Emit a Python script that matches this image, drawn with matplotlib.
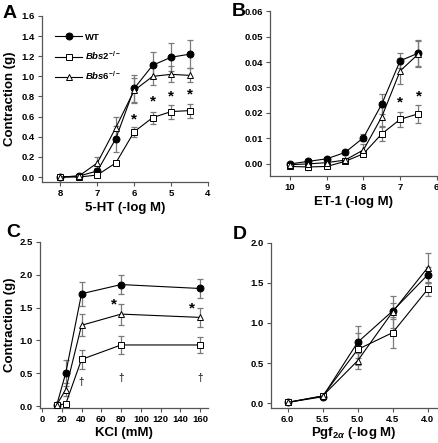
import matplotlib
matplotlib.use('Agg')
import matplotlib.pyplot as plt
from matplotlib.ticker import FormatStrFormatter

plt.rcParams['font.family'] = ['Liberation Sans', 'DejaVu Sans']
plt.rcParams['font.weight'] = 'bold'
plt.rcParams['mathtext.fontset'] = 'custom'
plt.rcParams['mathtext.rm'] = 'Liberation Sans:bold'
plt.rcParams['mathtext.it'] = 'Liberation Sans:italic:bold'
plt.rcParams['mathtext.bf'] = 'Liberation Sans:bold'

# panel A: 5-HT
a_x = [8, 7.5, 7, 6.5, 6, 5.5, 5, 4.5]
a_wt = [0.0, 0.01, 0.06, 0.38, 0.88, 1.11, 1.19, 1.22]
a_wt_err = [0.0, 0.0, 0.03, 0.13, 0.13, 0.13, 0.14, 0.14]
a_bbs2 = [0.0, 0.0, 0.02, 0.14, 0.45, 0.59, 0.65, 0.66]
a_bbs2_err = [0.0, 0.0, 0.01, 0.01, 0.05, 0.06, 0.07, 0.07]
a_bbs6 = [0.0, 0.01, 0.14, 0.49, 0.86, 1.0, 1.02, 1.01]
a_bbs6_err = [0.0, 0.0, 0.06, 0.11, 0.12, 0.09, 0.08, 0.07]
a_star_x = [6, 5.5, 5, 4.5]
a_star_y = [0.57, 0.75, 0.80, 0.82]

# panel B: ET-1
b_x = [10, 9.5, 9, 8.5, 8, 7.5, 7, 6.5]
b_wt = [0.0, 0.001, 0.002, 0.0045, 0.0103, 0.0235, 0.0405, 0.0435]
b_wt_err = [0.0005, 0.001, 0.0005, 0.001, 0.0015, 0.004, 0.003, 0.005]
b_bbs2 = [-0.001, -0.0012, -0.001, 0.001, 0.004, 0.0118, 0.0175, 0.0197]
b_bbs2_err = [0.0005, 0.001, 0.0005, 0.0008, 0.001, 0.003, 0.003, 0.0035]
b_bbs6 = [-0.0003, 0.0, 0.0005, 0.0015, 0.0055, 0.0185, 0.0365, 0.0432]
b_bbs6_err = [0.0005, 0.0005, 0.0005, 0.001, 0.0025, 0.004, 0.005, 0.005]
b_star_x = [7, 6.5]
b_star_y = [0.0240, 0.0265]

# panel C: KCl
c_x = [15, 24, 40, 80, 160]
c_wt = [0.02, 0.5, 1.71, 1.85, 1.79]
c_wt_err = [0.02, 0.2, 0.18, 0.15, 0.14]
c_bbs2 = [0.02, 0.03, 0.71, 0.93, 0.93]
c_bbs2_err = [0.01, 0.01, 0.15, 0.14, 0.12]
c_bbs6 = [0.02, 0.25, 1.23, 1.4, 1.35]
c_bbs6_err = [0.02, 0.1, 0.17, 0.16, 0.14]
c_star_x = [73, 152]
c_star_y = [1.55, 1.49]
c_dag_x = [40, 80, 160]
c_dag_y = [0.37, 0.42, 0.42]

# panel D: Pgf2a
d_x = [6.0, 5.5, 5.0, 4.5, 4.0]
d_wt = [0.01, 0.08, 0.76, 1.15, 1.6]
d_wt_err = [0.0, 0.02, 0.2, 0.1, 0.1]
d_bbs2 = [0.01, 0.09, 0.67, 0.88, 1.42]
d_bbs2_err = [0.0, 0.01, 0.2, 0.19, 0.08]
d_bbs6 = [0.01, 0.09, 0.53, 1.14, 1.69]
d_bbs6_err = [0.0, 0.01, 0.1, 0.2, 0.18]

fig = plt.figure(figsize=(4.39, 4.43), dpi=100)
axA = fig.add_axes([0.0957, 0.589, 0.378, 0.375])
axB = fig.add_axes([0.615, 0.603, 0.380, 0.372])
axC = fig.add_axes([0.0911, 0.079, 0.383, 0.375])
axD = fig.add_axes([0.617, 0.079, 0.378, 0.373])

ecol = '#7a7a7a'


def draw(ax, x, ys, errs, cap=2.5):
    styles = [dict(marker='o', mfc='black', label='WT'),
              dict(marker='s', mfc='white', label=r'$Bbs2^{-/-}$'),
              dict(marker='^', mfc='white', label=r'$Bbs6^{-/-}$')]
    for y, e, st in zip(ys, errs, styles):
        ax.errorbar(x, y, yerr=e, fmt='none', ecolor=ecol, elinewidth=0.9,
                    capsize=cap, capthick=0.9, zorder=1)
        ax.plot(x, y, color='black', lw=0.8, ms=5, mec='black', mew=0.7,
                zorder=3, **st)


def style(ax, xlim, ylim, xticks, yticks, yfmt, xfmt=None):
    ax.set_xlim(*xlim)
    ax.set_ylim(*ylim)
    ax.set_xticks(xticks)
    ax.set_yticks(yticks)
    ax.yaxis.set_major_formatter(FormatStrFormatter(yfmt))
    if xfmt:
        ax.xaxis.set_major_formatter(FormatStrFormatter(xfmt))
    for s in ['top', 'right']:
        ax.spines[s].set_visible(False)
    for s in ['left', 'bottom']:
        ax.spines[s].set_color('#555555')
        ax.spines[s].set_linewidth(0.9)
    ax.tick_params(direction='out', length=3, width=0.8, color='#555555',
                   labelsize=6.8, pad=2)
    for lab in ax.get_xticklabels() + ax.get_yticklabels():
        lab.set_fontweight('bold')


draw(axA, a_x, [a_wt, a_bbs2, a_bbs6], [a_wt_err, a_bbs2_err, a_bbs6_err])
style(axA, (8.5, 4.0), (-0.05, 1.6), [8, 7, 6, 5, 4],
      [0, 0.2, 0.4, 0.6, 0.8, 1.0, 1.2, 1.4, 1.6], '%.1f')
for sx, sy in zip(a_star_x, a_star_y):
    axA.text(sx, sy, '*', ha='center', va='center', fontsize=11, fontweight='bold')
axA.set_xlabel('5-HT (-log M)', fontsize=9.5, fontweight='bold', labelpad=3)
axA.set_ylabel('Contraction (g)', fontsize=9.5, fontweight='bold', labelpad=4)
axA.legend(loc='upper left', bbox_to_anchor=(0.03, 0.95), frameon=False,
           handlelength=2.8, labelspacing=0.8, handletextpad=0.3,
           prop={'weight': 'bold', 'size': 6.8})

draw(axB, b_x, [b_wt, b_bbs2, b_bbs6], [b_wt_err, b_bbs2_err, b_bbs6_err])
style(axB, (10.55, 6.0), (-0.0047, 0.06), [10, 9, 8, 7, 6],
      [0, 0.01, 0.02, 0.03, 0.04, 0.05, 0.06], '%.2f')
for sx, sy in zip(b_star_x, b_star_y):
    axB.text(sx, sy, '*', ha='center', va='center', fontsize=11, fontweight='bold')
axB.set_xlabel('ET-1 (-log M)', fontsize=9.5, fontweight='bold', labelpad=3)

draw(axC, c_x, [c_wt, c_bbs2, c_bbs6], [c_wt_err, c_bbs2_err, c_bbs6_err])
style(axC, (-2, 168), (-0.03, 2.5), list(range(0, 161, 20)),
      [0, 0.5, 1.0, 1.5, 2.0, 2.5], '%.1f')
for sx, sy in zip(c_star_x, c_star_y):
    axC.text(sx, sy, '*', ha='center', va='center', fontsize=11, fontweight='bold')
for sx, sy in zip(c_dag_x, c_dag_y):
    axC.text(sx, sy, '\u2020', ha='center', va='center', fontsize=7, color='#333333')
axC.set_xlabel('KCl (mM)', fontsize=9.5, fontweight='bold', labelpad=2)
axC.set_ylabel('Contraction (g)', fontsize=9.5, fontweight='bold', labelpad=3)

draw(axD, d_x, [d_wt, d_bbs2, d_bbs6], [d_wt_err, d_bbs2_err, d_bbs6_err])
style(axD, (6.24, 3.87), (-0.06, 2.0), [6.0, 5.5, 5.0, 4.5, 4.0],
      [0, 0.5, 1.0, 1.5, 2.0], '%.1f', '%.1f')
axD.set_xlabel(r'Pgf$_{2\alpha}$ (-log M)', fontsize=9.5, fontweight='bold', labelpad=1)

for lab, (fx, fy) in zip('ABCD', [(0.005, 0.97), (0.527, 0.975), (0.015, 0.475), (0.53, 0.47)]):
    fig.text(fx, fy, lab, fontsize=14, fontweight='bold', ha='left', va='center')

fig.savefig('out.png', dpi=100)
